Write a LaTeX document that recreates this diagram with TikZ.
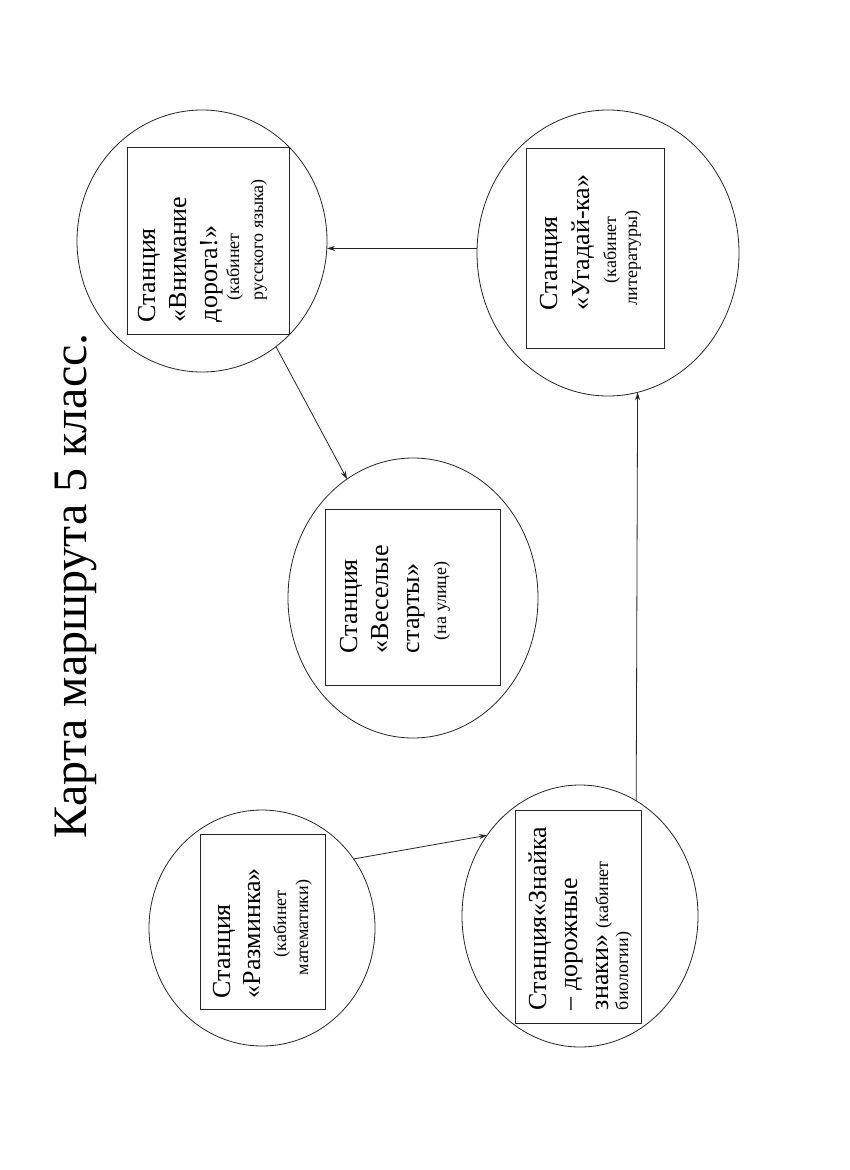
\documentclass[tikz,border=0pt]{standalone}
\usepackage{fontspec}
\setmainfont{Liberation Serif}
\usetikzlibrary{shapes.geometric,arrows.meta}
\begin{document}
\begin{tikzpicture}[x=1pt,y=-1pt,
  stn/.style={ellipse,draw=black!85,line width=0.8pt,inner sep=0pt,outer sep=0pt},
  sbox/.style={rectangle,draw=black!85,line width=1pt,inner sep=0pt,outer sep=0pt},
  txt/.style={rotate=90,anchor=base west,inner sep=0pt,outer sep=0pt},
  big/.style={txt,font=\fontsize{26}{31}\selectfont},
  sml/.style={txt,font=\fontsize{18}{22}\selectfont},
  arr/.style={draw=black!85,line width=0.8pt,-{Stealth[length=8pt,width=5pt]}}]
\useasboundingbox (0,0) rectangle (850,1170);
\fill[white] (0,0) rectangle (850,1170);
% title
\node[txt,font=\fontsize{48}{56}\selectfont] (title) at (86,838) {Карта маршрута 5 класс.};
% stations (ellipses)
\node[stn,minimum width=250pt,minimum height=262pt] (vn) at (202,241) {};
\node[stn,minimum width=262pt,minimum height=286pt] (ug) at (608,253) {};
\node[stn,minimum width=250pt,minimum height=280pt] (ve) at (413,598) {};
\node[stn,minimum width=226pt,minimum height=236pt] (rz) at (262,928) {};
\node[stn,minimum width=236pt,minimum height=262pt] (zn) at (580,916) {};
% boxes
\node[sbox,minimum width=162pt,minimum height=187pt] (vnbox) at (208,240.5) {};
\node[sbox,minimum width=138pt,minimum height=200pt] (ugbox) at (595,248) {};
\node[sbox,minimum width=175pt,minimum height=176pt] (vebox) at (412.5,597) {};
\node[sbox,minimum width=125pt,minimum height=175pt] (rzbox) at (262.5,921.5) {};
\node[sbox,minimum width=126pt,minimum height=213pt] (znbox) at (578,916.5) {};
% texts: Внимание дорога
\node[big] (vn1) at (155,322) {Станция};
\node[big] (vn2) at (186,322) {«Внимание};
\node[big] (vn3) at (217,322) {дорога!»};
\node[sml] (vn4) at (239,300) {(кабинет};
\node[sml] (vn5) at (263,300) {русского языка)};
% Угадай-ка
\node[big] (ug1) at (557,310) {Станция};
\node[big] (ug2) at (589,310) {«Угадай-ка»};
\node[sml] (ug3) at (616,283) {(кабинет};
\node[sml] (ug4) at (637,305) {литературы)};
% Веселые старты
\node[big] (ve1) at (357,653) {Станция};
\node[big] (ve2) at (388,653) {«Веселые};
\node[big] (ve3) at (419,653) {старты»};
\node[sml] (ve4) at (446,640) {(на улице)};
% Разминка
\node[big] (rz1) at (230,998) {Станция};
\node[big] (rz2) at (260,998) {«Разминка»};
\node[sml] (rz3) at (286,957) {(кабинет};
\node[sml] (rz4) at (308,975) {математики)};
% Знайка
\node[big] (zn1) at (546,1010) {Станция«Знайка};
\node[big] (zn2) at (577,1010) {– дорожные};
\node[big] (zn3) at (608,1010) {знаки»};
\node[sml] (zn4) at (608,928) {(кабинет};
\node[sml] (zn5) at (628,1010) {биологии)};
% connectors
\draw[arr] (ug.178) -- (ug.178 -| vn.east);
\draw[arr] (vn.305) -- (ve.119);
\draw[arr] (rz.37) -- (zn.139);
\draw[arr] (zn.64) -- (ug.282);
\end{tikzpicture}
\end{document}
